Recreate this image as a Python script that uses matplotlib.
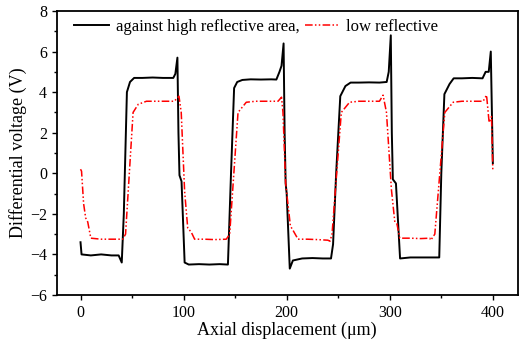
import matplotlib
matplotlib.use('Agg')
import matplotlib.pyplot as plt
from matplotlib.ticker import MultipleLocator

plt.rcParams['font.family'] = ['Liberation Serif', 'DejaVu Serif']

# high reflective area (black)
high_x = [0, 1, 10, 20, 30, 37, 40, 42, 45, 48, 52, 60, 70, 80, 90, 92, 94, 95, 96, 98,
          101, 105, 115, 125, 135, 143, 146, 149, 152, 157, 165, 175, 185, 190, 193, 195, 197,
          198, 199, 200, 203, 206, 215, 225, 235, 243, 245, 248, 252, 257, 262, 270, 280, 290,
          297, 299, 301, 302, 303, 306, 310, 320, 330, 340, 348, 350, 353, 358, 362, 370, 380,
          390, 393, 396, 398, 400]
high_y = [-3.4, -4.0, -4.05, -4.0, -4.05, -4.05, -4.4, -2.0, 4.0, 4.5, 4.7, 4.7, 4.72, 4.7,
          4.7, 4.9, 5.7, 2.0, -0.1, -0.4, -4.4, -4.5, -4.48, -4.5, -4.48, -4.5, 0.0, 4.2, 4.5,
          4.6, 4.63, 4.62, 4.63, 4.62, 5.0, 5.3, 6.4, 2.0, -0.5, -1.0, -4.7, -4.3, -4.2, -4.18,
          -4.2, -4.2, -3.5, 0.0, 3.8, 4.3, 4.47, 4.47, 4.48, 4.47, 4.5, 5.0, 6.8, 2.0, -0.3,
          -0.5, -4.2, -4.15, -4.15, -4.15, -4.15, 0.0, 3.9, 4.4, 4.68, 4.68, 4.7, 4.68, 5.0,
          5.0, 6.0, 0.5]

# low reflective area (red)
low_x = [0, 1, 3, 5, 7, 10, 20, 30, 41, 43.7, 51, 56, 64, 75, 85, 91, 95.5, 97.7, 101, 104,
         107.4, 110.7, 120, 130, 141.4, 144.7, 152.8, 160.8, 170, 180, 191.6, 195, 196.4, 199,
         203.6, 206, 211, 220, 230, 240, 242, 244, 253, 261, 270, 280, 290, 293.5, 296.8, 301.6,
         304.9, 307, 309.7, 320, 330, 338.8, 339.8, 343.7, 353.4, 361.5, 370, 380, 390.6, 393.9,
         396.4, 398.7, 400]
low_y = [0.2, 0.1, -1.5, -2.2, -2.4, -3.2, -3.25, -3.25, -3.25, -3.0, 3.0, 3.4, 3.55, 3.55,
         3.55, 3.55, 3.8, 3.0, -0.9, -2.7, -2.9, -3.25, -3.25, -3.27, -3.25, -3.0, 3.0, 3.5,
         3.55, 3.55, 3.55, 3.75, 3.0, -0.5, -2.6, -2.8, -3.25, -3.25, -3.27, -3.3, -3.35, -3.0,
         3.0, 3.5, 3.55, 3.55, 3.55, 3.85, 3.0, -0.8, -2.4, -2.5, -3.2, -3.2, -3.22, -3.2, -3.3,
         -3.0, 3.0, 3.5, 3.55, 3.55, 3.55, 3.85, 2.5, 2.8, 0.1]

x_ticks = [0, 100, 200, 300, 400]
y_ticks = [-6, -4, -2, 0, 2, 4, 6, 8]

fig = plt.figure(figsize=(5.26, 3.43), dpi=100)
ax = fig.add_axes([0.108, 0.140, 0.876, 0.828])

ax.plot(high_x, high_y, color='black', lw=1.4, label='against high reflective area,')
ax.plot(low_x, low_y, color='red', lw=1.1, ls=(0, (5, 1.5, 1, 1.5, 1, 1.5)), label='low reflective')

ax.set_xlim(-23, 424)
ax.set_ylim(-6, 8)
ax.set_xticks(x_ticks)
ax.set_yticks(y_ticks)
ax.xaxis.set_minor_locator(MultipleLocator(50))
ax.yaxis.set_minor_locator(MultipleLocator(1))
ax.tick_params(which='major', direction='out', length=3.5, width=1.0, labelsize=11.5)
ax.tick_params(which='minor', direction='out', length=2, width=1.0)
for s in ax.spines.values():
    s.set_linewidth(1.3)

ax.set_xlabel('Axial displacement (\u03bcm)', fontsize=13, labelpad=1)
ax.set_ylabel('Differential voltage (V)', fontsize=13, labelpad=2)

ax.legend(loc='upper left', ncol=2, frameon=False, fontsize=12, handlelength=2.1,
          columnspacing=0.3, handletextpad=0.4, borderaxespad=0.1, bbox_to_anchor=(0.02, 1.0))

fig.savefig('out.png', dpi=100)
